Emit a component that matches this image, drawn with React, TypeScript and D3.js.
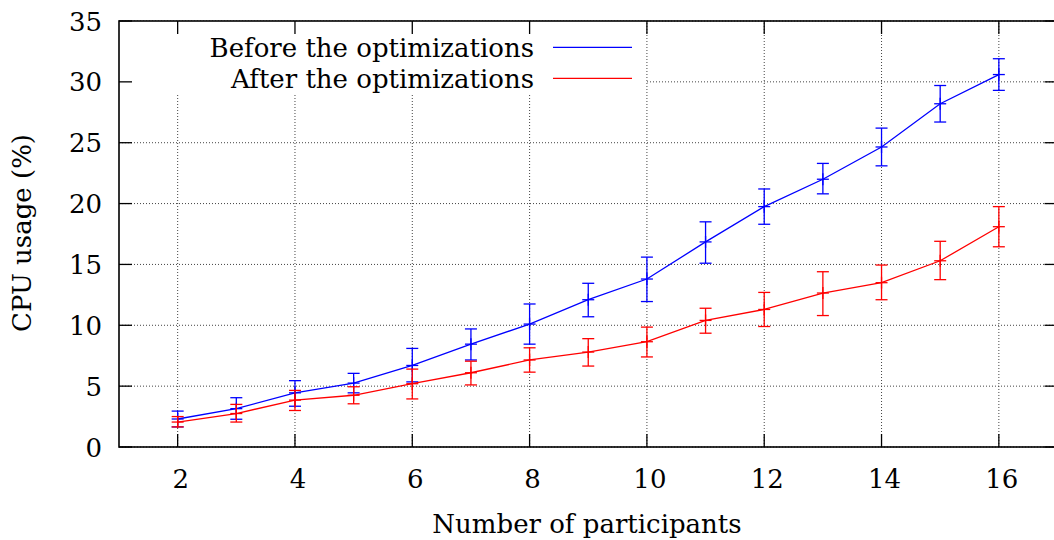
import React from "react";
import * as d3 from "d3";

const participants = [2, 3, 4, 5, 6, 7, 8, 9, 10, 11, 12, 13, 14, 15, 16];
const beforeMean = [2.3, 3.15, 4.45, 5.25, 6.7, 8.45, 10.1, 12.1, 13.8, 16.85, 19.75, 22.0, 24.65, 28.2, 30.6];
const beforeLow = [1.65, 2.28, 3.35, 4.45, 5.35, 7.15, 8.45, 10.7, 11.95, 15.1, 18.3, 20.8, 23.1, 26.7, 29.3];
const beforeHigh = [2.95, 4.05, 5.45, 6.05, 8.1, 9.7, 11.75, 13.45, 15.6, 18.5, 21.2, 23.3, 26.2, 29.7, 31.9];
const afterMean = [2.05, 2.75, 3.85, 4.25, 5.2, 6.1, 7.15, 7.8, 8.65, 10.4, 11.3, 12.65, 13.5, 15.3, 18.1];
const afterLow = [1.65, 2.05, 3.0, 3.55, 3.95, 5.1, 6.15, 6.65, 7.4, 9.35, 9.9, 10.8, 12.1, 13.75, 16.45];
const afterHigh = [2.5, 3.5, 4.65, 4.95, 6.4, 7.05, 8.15, 8.9, 9.85, 11.4, 12.7, 14.4, 14.95, 16.9, 19.75];

const xTicks = [2, 4, 6, 8, 10, 12, 14, 16];
const yTicks = [0, 5, 10, 15, 20, 25, 30, 35];
const seriesNames = ["Before the optimizations", "After the optimizations"];
const seriesColors = ["#0000ff", "#ff0000"];

const W = 1054;
const H = 540;
const FONT = "'DejaVu Serif', serif";

export default function App() {
  const x = d3.scaleLinear().domain([1, 17]).range([119, 1057.5]);
  const y = d3.scaleLinear().domain([0, 35]).range([447, 21]);
  const left = x(1), right = x(17), top = y(35), bottom = y(0);
  const tick = 13;

  const series = [
    { mean: beforeMean, low: beforeLow, high: beforeHigh },
    { mean: afterMean, low: afterLow, high: afterHigh },
  ];
  const line = d3
    .line<[number, number]>()
    .x((d) => x(d[0]))
    .y((d) => y(d[1]));

  const cap = 6;
  return (
    <svg
      width={W}
      height={H}
      style={{ position: "absolute", left: 0, top: 0, background: "#fff" }}
      fontFamily={FONT}
    >
      <rect x={0} y={0} width={W} height={H} fill="#fff" />
      {/* grid */}
      <g stroke="#444" strokeWidth={1} strokeDasharray="1,2">
        {xTicks.map((t) => (
          <line key={"gx" + t} x1={x(t)} x2={x(t)} y1={bottom} y2={top} />
        ))}
        {yTicks.map((t) => (
          <line key={"gy" + t} x1={left} x2={right} y1={y(t)} y2={y(t)} />
        ))}
      </g>
      {/* opaque key box */}
      <rect x={left} y={top} width={645 - left} height={93 - top} fill="#fff" />
      {/* frame */}
      <rect x={left} y={top} width={right - left} height={bottom - top} fill="none" stroke="#000" strokeWidth={1.6} />
      {/* ticks */}
      <g stroke="#000" strokeWidth={1.3}>
        {xTicks.map((t) => (
          <g key={"tx" + t}>
            <line x1={x(t)} x2={x(t)} y1={bottom} y2={bottom - tick} />
            <line x1={x(t)} x2={x(t)} y1={top} y2={top + tick} />
          </g>
        ))}
        {yTicks.map((t) => (
          <g key={"ty" + t}>
            <line x1={left} x2={left + tick} y1={y(t)} y2={y(t)} />
            <line x1={right} x2={right - tick} y1={y(t)} y2={y(t)} />
          </g>
        ))}
      </g>
      {/* tick labels */}
      <g fontSize={26} fill="#000">
        {xTicks.map((t) => (
          <text key={"lx" + t} x={x(t) + 3} y={488} textAnchor="middle">
            {t}
          </text>
        ))}
        {yTicks.map((t) => (
          <text key={"ly" + t} x={102} y={y(t) + 9.5} textAnchor="end">
            {t}
          </text>
        ))}
      </g>
      {/* axis titles */}
      <text x={587} y={533} fontSize={26} textAnchor="middle" fill="#000">
        Number of participants
      </text>
      <text
        transform={`translate(31,233) rotate(-90)`}
        fontSize={26}
        textAnchor="middle"
        fill="#000"
      >
        CPU usage (%)
      </text>
      {/* legend */}
      {seriesNames.map((n, i) => (
        <g key={"leg" + i}>
          <text x={534} y={56.5 + i * 31} fontSize={26} textAnchor="end" fill="#000">
            {n}
          </text>
          <line x1={553} x2={632} y1={47.3 + i * 31} y2={47.3 + i * 31} stroke={seriesColors[i]} strokeWidth={1.3} />
        </g>
      ))}
      {/* data */}
      {series.map((s, si) => {
        const pts: [number, number][] = participants.map((p, i) => [p, s.mean[i]]);
        const c = seriesColors[si];
        return (
          <g key={"s" + si} stroke={c} strokeWidth={1.3} fill="none">
            <path d={line(pts) || ""} />
            {participants.map((p, i) => {
              const px = x(p);
              const ym = y(s.mean[i]);
              const yl = y(s.low[i]);
              const yh = y(s.high[i]);
              return (
                <g key={"e" + i}>
                  <line x1={px} x2={px} y1={yl} y2={yh} />
                  <line x1={px - cap} x2={px + cap} y1={yl} y2={yl} />
                  <line x1={px - cap} x2={px + cap} y1={yh} y2={yh} />
                  <line x1={px - cap} x2={px + cap} y1={ym} y2={ym} />
                  <line x1={px} x2={px} y1={ym - cap} y2={ym + cap} />
                </g>
              );
            })}
          </g>
        );
      })}
    </svg>
  );
}
